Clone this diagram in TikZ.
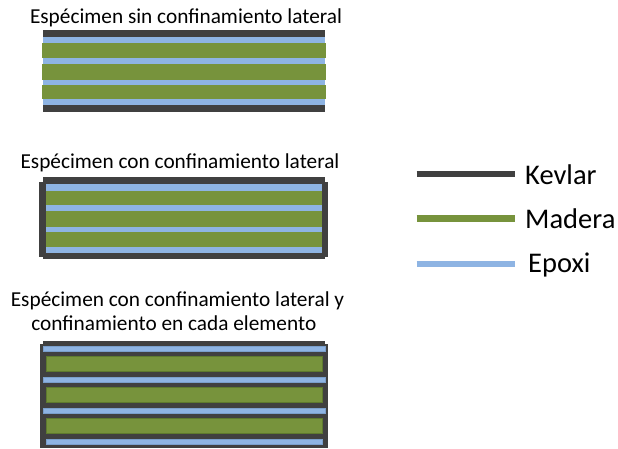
\documentclass[tikz,border=0pt]{standalone}
\usepackage{fontspec}
\setmainfont{Carlito}
\definecolor{kevlar}{HTML}{404040}
\definecolor{madera}{HTML}{77933C}
\definecolor{maderaline}{HTML}{5E7A2E}
\definecolor{epoxi}{HTML}{8EB4E3}
\definecolor{epoxiline}{HTML}{7A9FCC}
\tikzset{
  kev/.style={fill=kevlar},
  wood/.style={fill=madera},
  woodo/.style={fill=madera,draw=maderaline,line width=0.6pt},
  epo/.style={fill=epoxi},
  epoo/.style={fill=epoxi,draw=epoxiline,line width=0.5pt},
  title/.style={inner sep=0pt,anchor=base,font=\fontsize{21.3pt}{25pt}\selectfont},
  legtext/.style={inner sep=0pt,anchor=base west,font=\fontsize{28.5pt}{32pt}\selectfont},
  legline/.style={line width=6.5pt},
}
\begin{document}
\begin{tikzpicture}[x=1pt,y=-1pt]
\useasboundingbox (0,0) rectangle (618,448);
% ---- Specimen 1
\node[title] (t1) at (186,23.3) {Espécimen sin confinamiento lateral};
\fill[kev] (42.7,30) rectangle (325,37);
\fill[epo] (42.7,37) rectangle (325,43.3);
\fill[wood] (42.2,43.3) rectangle (325.6,58.3);
\fill[epo] (42.7,58.3) rectangle (325,64);
\fill[wood] (42.2,64) rectangle (325.6,80);
\fill[epo] (42.7,80) rectangle (325,85);
\fill[wood] (42.2,85) rectangle (325.6,99.3);
\fill[epo] (42.7,99.3) rectangle (325,105);
\fill[kev] (42.7,105) rectangle (325,111.7);
% ---- Specimen 2
\node[title] (t2) at (180,168.3) {Espécimen con confinamiento lateral};
\fill[kev] (42.7,177.3) rectangle (325,259.3);
\fill[kev] (39.3,181.7) rectangle (327.7,257);
\fill[epo] (46,184) rectangle (322,190.7);
\fill[wood] (46,190.7) rectangle (322,205);
\fill[epo] (46,205) rectangle (322,211);
\fill[wood] (46,211) rectangle (322,227.3);
\fill[epo] (46,227.3) rectangle (322,232.3);
\fill[wood] (46,232.3) rectangle (322,247.3);
\fill[epo] (46,247.3) rectangle (322,253.3);
% ---- Specimen 3
\node[title] (t3a) at (177.5,306.3) {Espécimen con confinamiento lateral y};
\node[title] (t3b) at (173.8,330.5) {confinamiento en cada elemento};
\fill[kev] (42.7,341) rectangle (325,448);
\fill[kev] (39.5,343.5) rectangle (328.3,448);
\filldraw[epoo] (43.3,346) rectangle (325.3,351.3);
\filldraw[woodo] (46.3,356.7) rectangle (322.7,371.7);
\filldraw[epoo] (43.3,377.7) rectangle (325.3,382.3);
\filldraw[woodo] (46.3,387.7) rectangle (322.7,402.3);
\filldraw[epoo] (43.3,408.7) rectangle (325.3,413.3);
\filldraw[woodo] (46.3,418.3) rectangle (322.7,433.3);
\filldraw[epoo] (46.7,439) rectangle (322.7,444);
% ---- Legend
\coordinate (k1) at (416.7,174);
\coordinate (k2) at (515,174);
\coordinate (m1) at (416.7,218.3);
\coordinate (m2) at (515,218.3);
\coordinate (e1) at (416.7,264.2);
\coordinate (e2) at (515,264.2);
\draw[legline,kevlar] (k1) -- (k2);
\draw[legline,madera] (m1) -- (m2);
\draw[legline,epoxi] (e1) -- (e2);
\node[legtext] (lk) at (525,184.3) {Kevlar};
\node[legtext] (lm) at (525,228.3) {Madera};
\node[legtext] (le) at (528,272.5) {Epoxi};
\end{tikzpicture}
\end{document}
